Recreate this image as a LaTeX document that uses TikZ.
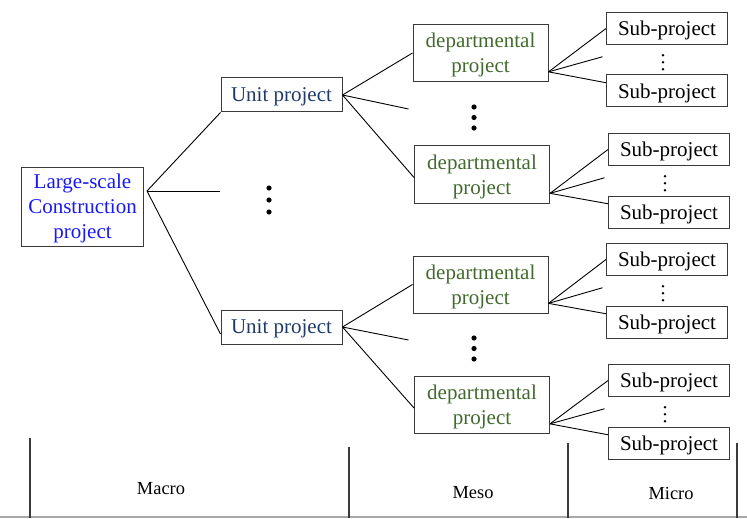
\documentclass[tikz,border=0pt]{standalone}
\usepackage{fontspec}
\setmainfont{Liberation Serif}
\usepackage{tikz}
\usetikzlibrary{calc}
\usetikzlibrary{math}
\definecolor{scale-blue}{HTML}{1818F2}
\definecolor{unit-navy}{HTML}{1F3A6C}
\definecolor{dept-green}{HTML}{426A2E}
\definecolor{box-gray}{HTML}{3A3A3A}
\definecolor{base-gray}{HTML}{A8A8A8}

\begin{document}
\begin{tikzpicture}[
    x=0.5pt, y=-0.5pt,
    font=\fontsize{10.5}{12.6}\selectfont,
    box/.style={draw=box-gray, line width=0.5pt, inner sep=0pt, align=center, text depth=-2.4pt},
    largebox/.style={box, minimum width=61pt, minimum height=39.5pt, text=scale-blue},
    unitbox/.style={box, minimum width=60.5pt, minimum height=17pt, text=unit-navy},
    deptbox/.style={box, minimum width=67.5pt, minimum height=28.5pt, text=dept-green},
    subbox/.style={box, minimum width=60.5pt, minimum height=16pt},
    link/.style={line width=0.45pt},
    level/.style={font=\fontsize{9.2}{11}\selectfont},
    ]

\useasboundingbox (0,0) rectangle (747,518);

% Position settings
\tikzmath{
    % Column coordinates
    \xlarge = 82.5;
    \xunit = 281.5;
    \xdept = 480.5;
    \xdeptshift = 1.5;
    \xsub = 667;
    \xsubshift = 2;
    % Row coordinates
    \ylarge = 206.5;
    \yunittop = 95;
    \yunitbottom = 327;
    \ysubgap = 62.5;
}

% Draws the macro level
\node[largebox] (large) at (\xlarge,\ylarge) {Large-scale\\Construction\\project};
\coordinate (largeout) at ($(large.east)+(3,-15.5)$);
\node[unitbox] (unitA) at (\xunit,\yunittop) {Unit project};
\node[unitbox] (unitB) at (\xunit,\yunitbottom) {Unit project};

\draw[link] (largeout) -- (unitA.south west);
\coordinate (largefree) at ($(largeout)+(73,0)$);
\draw[link] (largeout) -- (largefree);
\draw[link] (largeout) -- ($(unitB.west)!0.4!(unitB.south west)$);

% Draws the meso level
\node[deptbox] (deptA) at (\xdept,53) {departmental\\project};
\node[deptbox] (deptB) at (\xdept+\xdeptshift,174.5) {departmental\\project};
\node[deptbox] (deptC) at (\xdept,284.5) {departmental\\project};
\node[deptbox] (deptD) at (\xdept+\xdeptshift,405) {departmental\\project};

\coordinate (unitAfree) at ($(unitA.east)+(66,14)$);
\coordinate (unitBfree) at ($(unitB.east)+(66,13)$);
\draw[link] (unitA.east) -- (deptA.west);
\draw[link] (unitA.east) -- (unitAfree);
\draw[link] (unitA.east) -- ($(deptB.west)+(0,3)$);
\draw[link] (unitB.east) -- (deptC.west);
\draw[link] (unitB.east) -- (unitBfree);
\draw[link] (unitB.east) -- ($(deptD.west)+(0,3)$);

% Draws the micro level, one pair of sub-projects per departmental project
\foreach \dept/\ytop/\shift in {deptA/28.5/0, deptB/149.5/\xsubshift, deptC/259.5/0, deptD/380.5/\xsubshift}{
    \node[subbox] (\dept-subA) at (\xsub+\shift,\ytop) {Sub-project};
    \node[subbox] (\dept-subB) at (\xsub+\shift,\ytop+\ysubgap) {Sub-project};
    \coordinate (\dept-out) at ($(\dept.east)!0.65!(\dept.south east)$);
    \coordinate (\dept-free) at ($($(\dept-subA.west)!0.5!(\dept-subB.west)$)+(-3.5,-3)$);
    \draw[link] (\dept-out) -- (\dept-subA.west);
    \draw[link] (\dept-out) -- (\dept-free);
    \draw[link] (\dept-out) -- ($(\dept-subB.west)!0.5!(\dept-subB.north west)$);
    % small dots between the two sub-projects
    \foreach \k in {-1,0,1}
        \fill ($($(\dept-subA.south)!0.5!(\dept-subB.north)$)+(-4,2.5+7*\k)$) circle[radius=1.3];
}

% Draws the large dots
\foreach \xdot/\ydot/\gap in {269/200/12, 474/117.5/10.5, 474/348.5/10.5}
    \foreach \k in {-1,0,1}
        \fill (\xdot,\ydot+\gap*\k) circle[radius=2.6];

% Draws the level scale at the bottom
\draw[base-gray, line width=0.8pt] (0,517) -- (747,517);
\draw[box-gray, line width=0.7pt] (30,438) -- (30,518);
\draw[box-gray, line width=0.7pt] (349,447) -- (349,518);
\draw[box-gray, line width=0.7pt] (568,443) -- (568,518);
\draw[box-gray, line width=0.7pt] (737,443) -- (737,518);
\node[level] (macro) at (161,489) {Macro};
\node[level] (meso) at (473,493) {Meso};
\node[level] (micro) at (671,493) {Micro};

\end{tikzpicture}
\end{document}
